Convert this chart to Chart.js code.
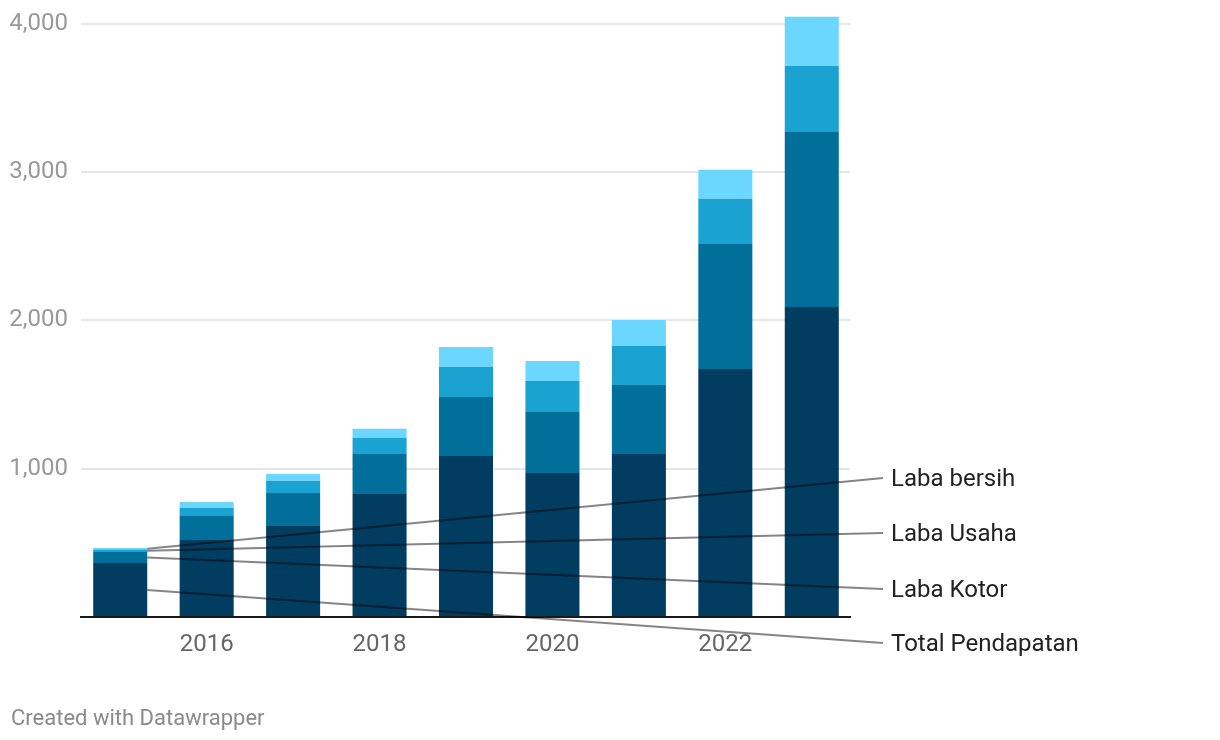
<!DOCTYPE html>
<html>
<head>
<meta charset="utf-8">
<script src="https://cdn.jsdelivr.net/npm/chart.js@4"></script>
<style>
  html, body { margin: 0; padding: 0; background: #fff; }
  #wrap { position: relative; width: 1220px; height: 740px; }
  #footer {
    position: absolute; left: 11px; top: 705px;
    font-family: Roboto, sans-serif; font-size: 22px; color: #8a8a8a;
  }
</style>
</head>
<body>
<div id="wrap">
  <canvas id="chart" width="1220" height="740"></canvas>
  <div id="footer">Created with Datawrapper</div>
</div>
<script>
// Data
const years = ['2015', '2016', '2017', '2018', '2019', '2020', '2021', '2022', '2023'];
const totalPendapatan = [364, 519, 614, 830, 1086, 971, 1100, 1673, 2091];
const labaKotor = [74, 162, 223, 270, 398, 411, 465, 843, 1180];
const labaUsaha = [18, 54, 81, 108, 202, 209, 263, 304, 445];
const labaBersih = [9, 40, 47, 61, 135, 135, 175, 196, 331];
const yTicks = [0, 1000, 2000, 3000, 4000];

const seriesNames = ['Total Pendapatan', 'Laba Kotor', 'Laba Usaha', 'Laba bersih'];
const seriesColors = ['#003d60', '#006f99', '#1aa3d0', '#6bd7ff'];
const labelY = [643, 589, 533, 478];

// Gridlines and baseline drawn from the y scale
const gridPlugin = {
    id: 'grid',
    beforeDatasetsDraw(chart) {
        const ctx = chart.ctx;
        const y = chart.scales.y;
        ctx.save();
        ctx.strokeStyle = '#e6e6e6';
        ctx.lineWidth = 2;
        yTicks.forEach(v => {
            if (v === 0) return;
            const py = Math.round(y.getPixelForValue(v));
            ctx.beginPath();
            ctx.moveTo(81, py);
            ctx.lineTo(850, py);
            ctx.stroke();
        });
        ctx.restore();
    },
    afterDatasetsDraw(chart) {
        const ctx = chart.ctx;
        const y = chart.scales.y;
        const py = y.getPixelForValue(0);
        ctx.save();
        ctx.strokeStyle = '#1a1a1a';
        ctx.lineWidth = 2;
        ctx.beginPath();
        ctx.moveTo(80, py);
        ctx.lineTo(851, py);
        ctx.stroke();
        ctx.restore();
    }
};

// Direct labels with leader lines to the first bar
const labelPlugin = {
    id: 'labels',
    afterDraw(chart) {
        const ctx = chart.ctx;
        ctx.save();
        chart.data.datasets.forEach((ds, i) => {
            const bar = chart.getDatasetMeta(i).data[0];
            const x0 = bar.x + bar.width / 2;
            const y0 = (bar.y + bar.base) / 2;
            ctx.strokeStyle = 'rgba(0,0,0,0.48)';
            ctx.lineWidth = 2;
            ctx.beginPath();
            ctx.moveTo(x0, y0);
            ctx.lineTo(883, labelY[i]);
            ctx.stroke();
            ctx.fillStyle = '#222';
            ctx.font = '24px Roboto';
            ctx.textBaseline = 'middle';
            ctx.textAlign = 'left';
            ctx.fillText(ds.label, 891, labelY[i] + 2);
        });
        ctx.restore();
    }
};

const seriesData = [totalPendapatan, labaKotor, labaUsaha, labaBersih];

new Chart(document.getElementById('chart'), {
    type: 'bar',
    data: {
        labels: years,
        datasets: seriesData.map((d, i) => ({
            label: seriesNames[i],
            data: d,
            backgroundColor: seriesColors[i],
            borderWidth: 0,
            barPercentage: 0.625,
            categoryPercentage: 1,
            clip: false
        }))
    },
    options: {
        responsive: false,
        animation: false,
        layout: { padding: { top: 9, right: 365, bottom: 0, left: 0 } },
        plugins: {
            legend: { display: false },
            tooltip: { enabled: false }
        },
        scales: {
            x: {
                stacked: true,
                grid: { display: false, drawTicks: false },
                border: { display: false },
                afterFit(scale) {
                    scale.height = 123;
                    scale.paddingLeft = 0;
                    scale.paddingRight = 0;
                },
                ticks: {
                    autoSkip: false,
                    maxRotation: 0,
                    padding: 14,
                    color: '#666',
                    font: { family: 'Roboto', size: 24 },
                    callback: (v, i) => (i % 2 === 1 ? years[i] : '')
                }
            },
            y: {
                stacked: true,
                min: 0,
                max: 4100,
                grid: { display: false, drawTicks: false },
                border: { display: false },
                afterFit(scale) {
                    scale.width = 77;
                    scale.paddingTop = 0;
                    scale.paddingBottom = 0;
                },
                afterBuildTicks(scale) {
                    scale.ticks = yTicks.filter(v => v > 0).map(v => ({ value: v }));
                },
                ticks: {
                    padding: 9,
                    color: '#999',
                    font: { family: 'Roboto', size: 24 },
                    callback: v => v.toLocaleString('en-US')
                }
            }
        }
    },
    plugins: [gridPlugin, labelPlugin]
});
</script>
</body>
</html>
